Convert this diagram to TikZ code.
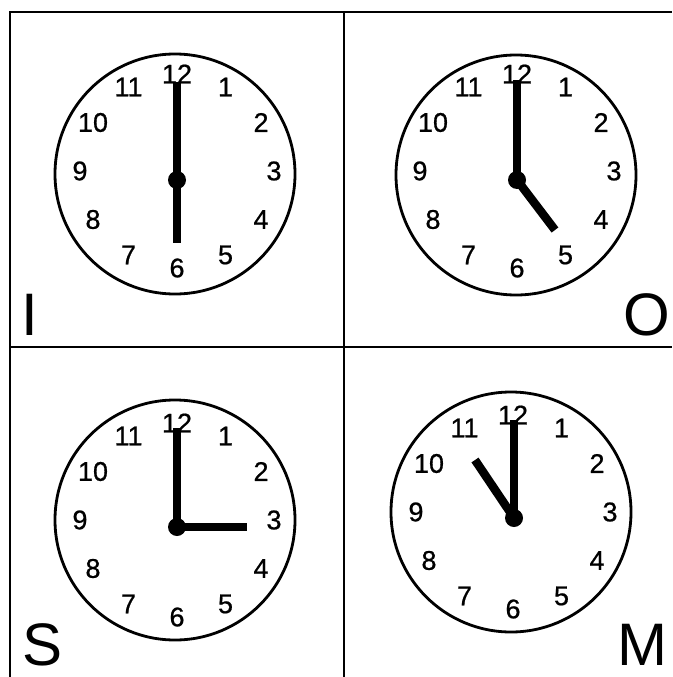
\documentclass[tikz,border=0pt]{standalone}
\usepackage{fontspec}
\setmainfont{Liberation Sans}
\newfontfamily\dialfont[FakeBold=0.7]{Liberation Sans}
\usetikzlibrary{positioning}
\tikzset{
    dial/.style = {circle, draw, line width=2.8pt, minimum size=240pt, inner sep=0pt},
    hour/.style = {font=\dialfont\fontsize{27}{27}\selectfont, inner sep=0pt},
    hand/.style = {line width=8.5pt},
    pivot/.style = {circle, fill, minimum size=18pt, inner sep=0pt},
    letter/.style = {font=\fontsize{60}{60}\selectfont, inner sep=0pt},
    frame/.style = {line width=2pt}
}

\begin{document}
\begin{tikzpicture}[x=1pt, y=-1pt]
		\useasboundingbox (0,0) rectangle (672,677);
		% frame
		\coordinate (topl) at (10,12);
		\coordinate (topr) at (672,12);
		\coordinate (botl) at (10,677);
		\coordinate (topm) at (344,12);
		\coordinate (botm) at (344,677);
		\coordinate (midl) at (10,347);
		\coordinate (midr) at (672,347);
		\draw [frame] (botl) -- (topl) -- (topr);
		\draw [frame] (topm) -- (botm);
		\draw [frame] (midl) -- (midr);
		% clock I
		\node (dialI) [dial] at (175,174) {};
		\begin{scope}[shift={(177,171)}]
			\foreach \h in {1,...,12} \node [hour] at (30*\h-90:97) {\h};
		\end{scope}
		\node (pivI) [pivot] at (177,180) {};
		\draw [hand] (pivI.center) -- ++(0,-98);
		\draw [hand] (pivI.center) -- ++(0,63);
		% clock O
		\node (dialO) [dial] at (516,175) {};
		\begin{scope}[shift={(517,171)}]
			\foreach \h in {1,...,12} \node [hour] at (30*\h-90:97) {\h};
		\end{scope}
		\node (pivO) [pivot] at (517,180) {};
		\draw [hand] (pivO.center) -- ++(0,-100);
		\draw [hand] (pivO.center) -- ++(38,50);
		% clock S
		\node (dialS) [dial] at (175,520) {};
		\begin{scope}[shift={(177,520)}]
			\foreach \h in {1,...,12} \node [hour] at (30*\h-90:97) {\h};
		\end{scope}
		\node (pivS) [pivot] at (177,527) {};
		\draw [hand] (pivS.center) -- ++(0,-99);
		\draw [hand] (pivS.center) -- ++(70,0);
		% clock M
		\node (dialM) [dial] at (511,512) {};
		\begin{scope}[shift={(513,512)}]
			\foreach \h in {1,...,12} \node [hour] at (30*\h-90:97) {\h};
		\end{scope}
		\node (pivM) [pivot] at (514,518) {};
		\draw [hand] (pivM.center) -- ++(0,-98);
		\draw [hand] (pivM.center) -- ++(-39,-58);
		% letters
		\node (lI) [letter, anchor=base west] at (21,335) {I};
		\node (lO) [letter, anchor=base east] at (670,335) {O};
		\node (lS) [letter, anchor=base west] at (22,665) {S};
		\node (lM) [letter, anchor=base east] at (668,665) {M};
	\end{tikzpicture}
\end{document}
